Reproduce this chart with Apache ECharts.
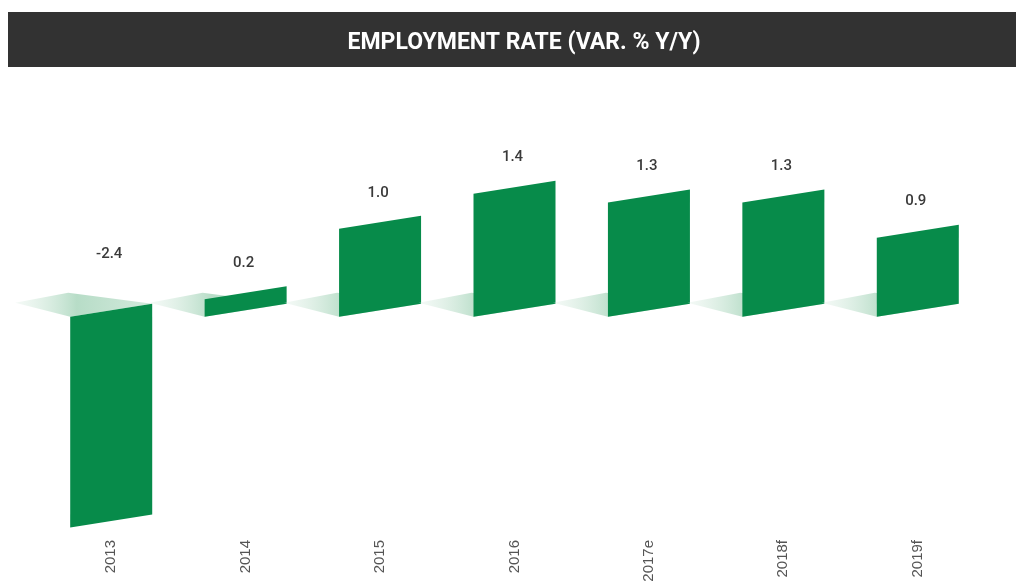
<!DOCTYPE html>
<html>
<head>
<meta charset="utf-8">
<script src="https://cdn.jsdelivr.net/npm/echarts@6/dist/echarts.min.js"></script>
<style>
html,body{margin:0;padding:0;background:#fff;}
#chart{width:1016px;height:588px;}
</style>
</head>
<body>
<div id="chart"></div>
<script>
const categories = ['2013', '2014', '2015', '2016', '2017e', '2018f', '2019f'];
const values = [-2.4, 0.2, 1.0, 1.4, 1.3, 1.3, 0.9];
const labelTexts = ['-2.4', '0.2', '1.0', '1.4', '1.3', '1.3', '0.9'];
const chartTitle = 'EMPLOYMENT RATE (VAR. % Y/Y)';

const BAR_GREEN = '#078b4a';
const SKEW = 13;

const chart = echarts.init(document.getElementById('chart'), null, {renderer: 'canvas'});

function renderItem(params, api) {
  const idx = api.value(0);
  const v = api.value(1);
  const base = api.coord([idx, 0]);
  const top = api.coord([idx, v]);
  const band = api.size([1, 0])[0];
  const w = band * 0.61;
  const bx = base[0] - w / 2;
  const by = base[1];
  const children = [];
  children.push({
    type: 'polygon',
    shape: {points: [[bx - 55, by - 14], [bx - 2, by - 24], [bx + w, by - SKEW], [bx, by]]},
    style: {
      fill: new echarts.graphic.LinearGradient(0, 0, 1, 0, [
        {offset: 0, color: 'rgba(225,240,231,0.35)'},
        {offset: 0.45, color: 'rgba(165,212,185,0.8)'},
        {offset: 1, color: 'rgba(195,226,208,0.75)'}
      ])
    }
  });
  const pts = [[bx, by], [bx + w, by - SKEW], [bx + w, top[1] - SKEW], [bx, top[1]]];
  children.push({type: 'polygon', shape: {points: pts}, style: {fill: BAR_GREEN}});
  const ly = v >= 0 ? top[1] - SKEW - 23 : by - 62;
  children.push({
    type: 'text',
    style: {
      text: labelTexts[idx],
      x: base[0] - 2, y: ly,
      textAlign: 'center', textVerticalAlign: 'middle',
      fill: '#3a3a3a', font: '500 15px Roboto'
    }
  });
  return {type: 'group', children: children};
}

const option = {
  backgroundColor: '#ffffff',
  animation: false,
  graphic: [{
    type: 'rect', left: 8, top: 12, z: 0,
    shape: {width: 1008, height: 55},
    style: {fill: '#323232'}
  }],
  title: {
    text: chartTitle,
    left: 519, top: 27, textAlign: 'center',
    textStyle: {color: '#ffffff', fontSize: 23, fontWeight: 'bold', fontFamily: 'Roboto'}
  },
  grid: {left: 44, right: 31, top: 141, bottom: 56},
  xAxis: {
    type: 'category',
    data: categories,
    axisLine: {show: false},
    axisTick: {show: false},
    axisLabel: {rotate: 90, margin: 8, color: '#555', fontSize: 15, fontFamily: 'Liberation Sans'}
  },
  yAxis: {
    type: 'value', min: -2.45, max: 2.0,
    show: false, splitLine: {show: false}
  },
  series: [{
    type: 'custom',
    renderItem: renderItem,
    encode: {x: 0, y: 1},
    data: values.map((v, i) => [i, v])
  }]
};
chart.setOption(option);
</script>
</body>
</html>
